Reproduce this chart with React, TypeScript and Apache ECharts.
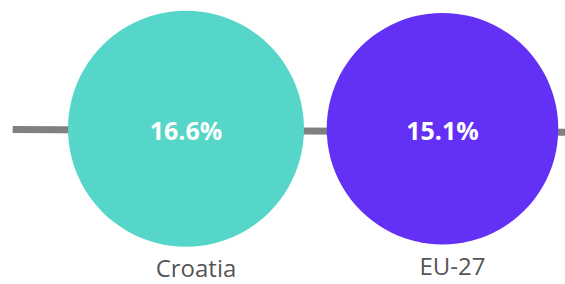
import React, { useEffect, useRef } from "react";
import * as echarts from "echarts";

const categories = ["Croatia", "EU-27"];
const values = [16.6, 15.1];
const colors = ["#55D6C8", "#6331F5"];

export default function App() {
  const ref = useRef<HTMLDivElement>(null);
  useEffect(() => {
    if (!ref.current) return;
    const chart = echarts.init(ref.current, null, { renderer: "svg" });
    const maxV = Math.max(...values);
    const sizeOf = (v: number) => 236 * Math.pow(v / maxV, 0.2);
    const data = categories.map((c, i) => ({
      name: c,
      value: [i, 0, values[i]],
      itemStyle: { color: colors[i], opacity: 1 },
    }));
    chart.setOption({
      animation: false,
      grid: { left: 0, right: 0, top: 0, height: 257.4, containLabel: false },
      xAxis: { type: "value", min: -0.7251, max: 1.4776, show: false },
      yAxis: { type: "value", min: -1, max: 1, show: false },
      graphic: {
        z: -10,
        elements: [
          {
            type: "line",
            z: -10,
            shape: { x1: 12.7, y1: 129.5, x2: 570, y2: 132.2 },
            style: { stroke: "#808080", lineWidth: 7 },
          },
        ],
      },
      series: [
        {
          type: "scatter",
          z: 3,
          zlevel: 1,
          data,
          symbolSize: (val: any) => sizeOf(val[2]),
          label: {
            show: true,
            position: "inside",
            offset: [0, 1.5],
            formatter: (p: any) => `${p.value[2].toFixed(1)}%`,
            color: "#ffffff",
            fontFamily: "Open Sans",
            fontWeight: "bold",
            fontSize: 25,
          },
          emphasis: { disabled: true },
        },
        {
          type: "scatter",
          z: 4,
          zlevel: 1,
          data: data.map((d) => ({ ...d, itemStyle: { color: "rgba(0,0,0,0)" } })),
          symbolSize: (val: any) => sizeOf(val[2]),
          label: {
            show: true,
            position: "bottom",
            distance: 9,
            offset: [10, 0],
            formatter: (p: any) => p.name,
            color: "#262626",
            fontFamily: "Open Sans",
            fontSize: 24,
          },
          emphasis: { disabled: true },
        },
      ],
    });
    return () => chart.dispose();
  }, []);
  return <div ref={ref} style={{ width: 565, height: 284, position: "absolute", left: 0, top: 0 }} />;
}
